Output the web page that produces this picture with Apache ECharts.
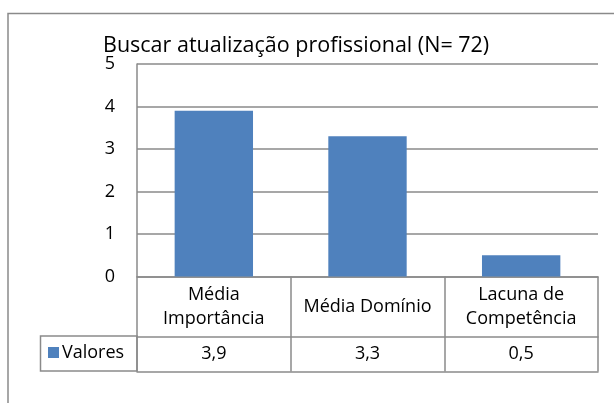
<!DOCTYPE html>
<html>
<head>
<meta charset="utf-8">
<script src="https://cdn.jsdelivr.net/npm/echarts@6/dist/echarts.min.js"></script>
<style>
  html, body { margin: 0; padding: 0; background: #fff; }
  #main { width: 614px; height: 403px; }
</style>
</head>
<body>
<div id="main"></div>
<script>
// dados do gráfico
const chartTitle = 'Buscar atualização profissional (N= 72)'
const categories = ['Média\nImportância', 'Média Domínio', 'Lacuna de\nCompetência']
const values = [3.9, 3.3, 0.5]
const seriesName = 'Valores'
const yTicks = [0, 1, 2, 3, 4, 5]

const font = '"Open Sans", "Noto Sans", sans-serif'
const lineColor = '#8a8a8a'
const barColor = '#4f81bd'

const chartDom = document.getElementById('main')
const myChart = echarts.init(chartDom)

// rótulos da tabela de dados (formato pt-BR)
const valueLabels = values.map(v => v.toFixed(1).replace('.', ','))

const option = {
  animation: false,
  title: {
    text: chartTitle,
    left: 103,
    top: 35,
    padding: 0,
    textStyle: { fontFamily: font, fontSize: 21.5, fontWeight: 'normal', color: '#000' }
  },
  legend: {
    data: [seriesName],
    left: 48,
    top: 343.5,
    padding: 0,
    itemWidth: 11,
    itemHeight: 11,
    itemGap: 4,
    icon: 'rect',
    textStyle: { fontFamily: font, fontSize: 18, color: '#000', padding: [0, 0, 0, -2] }
  },
  grid: {
    left: 137,
    right: 16,
    top: 64,
    bottom: 126.5
  },
  xAxis: [
    {
      // linha dos rótulos de categoria (tabela)
      type: 'category',
      data: categories,
      position: 'bottom',
      axisLine: { show: true, lineStyle: { color: lineColor, width: 1.5 } },
      axisTick: { show: true, alignWithLabel: false, length: 95, lineStyle: { color: lineColor, width: 1.5 } },
      axisLabel: {
        interval: 0,
        margin: 30.5,
        verticalAlign: 'middle',
        fontFamily: font,
        fontSize: 18,
        lineHeight: 24,
        color: '#000'
      }
    },
    {
      // linha de valores da tabela
      type: 'category',
      data: valueLabels,
      position: 'bottom',
      offset: 60,
      axisLine: { show: true, lineStyle: { color: lineColor, width: 1.5 } },
      axisTick: { show: false },
      axisLabel: {
        interval: 0,
        margin: 17,
        verticalAlign: 'middle',
        fontFamily: font,
        fontSize: 18,
        color: '#000'
      }
    },
    {
      type: 'category',
      data: categories,
      position: 'bottom',
      offset: 95,
      axisLine: { show: true, lineStyle: { color: lineColor, width: 1.5 } },
      axisTick: { show: false },
      axisLabel: { show: false }
    }
  ],
  yAxis: {
    type: 'value',
    min: yTicks[0],
    max: yTicks[yTicks.length - 1],
    interval: 1,
    axisLine: { show: true, lineStyle: { color: lineColor, width: 1.5 } },
    axisTick: { show: false },
    splitLine: { show: true, lineStyle: { color: lineColor, width: 1.5 } },
    axisLabel: {
      margin: 22,
      fontFamily: font,
      fontSize: 18,
      color: '#000'
    }
  },
  series: [
    {
      name: seriesName,
      type: 'bar',
      xAxisIndex: 0,
      data: values,
      barWidth: '51%',
      itemStyle: { color: barColor }
    }
  ],
  graphic: [
    {
      // moldura externa da área do gráfico
      type: 'rect',
      shape: { x: 8, y: 13.5, width: 700, height: 500 },
      style: { fill: 'none', stroke: lineColor, lineWidth: 1.5 },
      silent: true
    },
    {
      // célula da legenda na tabela de dados
      type: 'rect',
      shape: { x: 40.5, y: 336, width: 96.5, height: 35 },
      style: { fill: 'none', stroke: lineColor, lineWidth: 1.5 },
      silent: true
    }
  ]
}

option && myChart.setOption(option)
</script>
</body>
</html>
